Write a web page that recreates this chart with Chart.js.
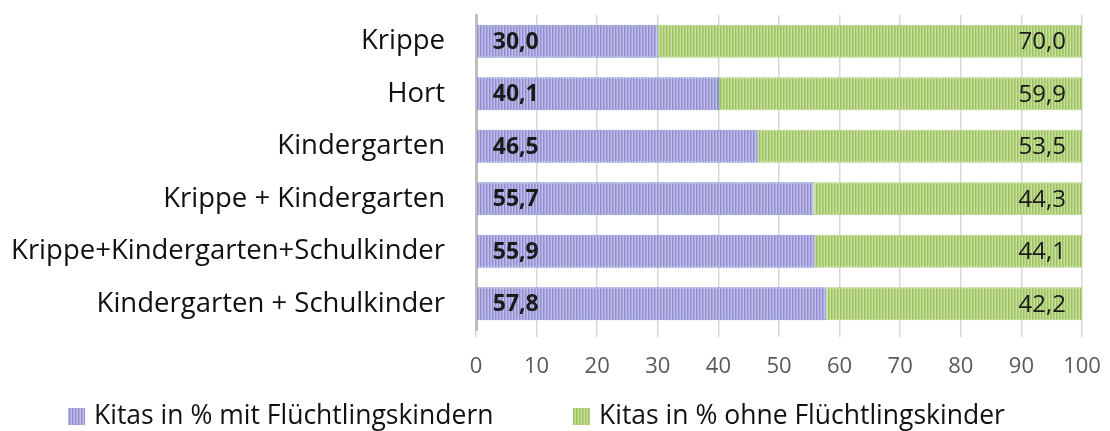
<!DOCTYPE html>
<html>
<head>
<meta charset="utf-8">
<script src="https://cdn.jsdelivr.net/npm/chart.js@4"></script>
<style>
  body { margin: 0; background: #fff; }
  #wrap { width: 1110px; height: 431px; position: relative; }
</style>
</head>
<body>
<div id="wrap"><canvas id="chart" width="1110" height="431"></canvas></div>
<script>
// Daten
const categories = [
    'Krippe',
    'Hort',
    'Kindergarten',
    'Krippe + Kindergarten',
    'Krippe+Kindergarten+Schulkinder',
    'Kindergarten + Schulkinder'
];
const mitFluechtlingen = [30.0, 40.1, 46.5, 55.7, 55.9, 57.8];
const ohneFluechtlinge = [70.0, 59.9, 53.5, 44.3, 44.1, 42.2];
const seriesLabels = ['Kitas in % mit Flüchtlingskindern', 'Kitas in % ohne Flüchtlingskinder'];
const xTicks = [0, 10, 20, 30, 40, 50, 60, 70, 80, 90, 100];

const FONT = '"Open Sans", "Noto Sans", sans-serif';

// Streifenmuster wie im Original
function makeStripes(dark, light) {
    const c = document.createElement('canvas');
    c.width = 3;
    c.height = 40;
    const g = c.getContext('2d');
    g.fillStyle = light;
    g.fillRect(0, 0, 3, 40);
    g.fillStyle = dark;
    g.fillRect(0, 0, 1.5, 40);
    return document.getElementById('chart').getContext('2d').createPattern(c, 'repeat');
}

const bluePattern = makeStripes('#8890d4', '#cbbce6');
const greenPattern = makeStripes('#9cc25c', '#c9e0a2');

// Werte in die Balken schreiben
const valueLabels = {
    id: 'valueLabels',
    afterDatasetsDraw(chart) {
        const ctx = chart.ctx;
        ctx.save();
        ctx.fillStyle = '#1a1a1a';
        ctx.textBaseline = 'middle';
        chart.data.datasets.forEach((ds, di) => {
            const meta = chart.getDatasetMeta(di);
            meta.data.forEach((bar, i) => {
                const txt = ds.data[i].toFixed(1).replace('.', ',');
                if (di === 0) {
                    ctx.font = 'bold 23px ' + FONT;
                    ctx.textAlign = 'left';
                    ctx.fillText(txt, bar.base + 16, bar.y + 1);
                } else {
                    ctx.font = '24px ' + FONT;
                    ctx.textAlign = 'right';
                    ctx.fillText(txt, bar.x - 16, bar.y + 1);
                }
            });
        });
        ctx.restore();
    }
};

// Legende unten
const bottomLegend = {
    id: 'bottomLegend',
    afterDraw(chart) {
        const ctx = chart.ctx;
        const items = [
            { x: 68, fill: bluePattern },
            { x: 573, fill: greenPattern }
        ];
        ctx.save();
        ctx.font = '26.5px ' + FONT;
        ctx.textBaseline = 'middle';
        ctx.textAlign = 'left';
        items.forEach((it, i) => {
            ctx.fillStyle = it.fill;
            ctx.fillRect(it.x, 408, 17, 17);
            ctx.fillStyle = '#111';
            ctx.fillText(seriesLabels[i], it.x + 26, 416);
        });
        ctx.restore();
    }
};

new Chart(document.getElementById('chart'), {
    type: 'bar',
    data: {
        labels: categories,
        datasets: [
            {
                label: seriesLabels[0],
                data: mitFluechtlingen,
                backgroundColor: bluePattern,
                borderColor: '#8494d8',
                borderWidth: 1,
                borderSkipped: false,
                barPercentage: 0.63,
                categoryPercentage: 1
            },
            {
                label: seriesLabels[1],
                data: ohneFluechtlinge,
                backgroundColor: greenPattern,
                borderColor: '#b0d07c',
                borderWidth: 1,
                borderSkipped: false,
                barPercentage: 0.63,
                categoryPercentage: 1
            }
        ]
    },
    options: {
        indexAxis: 'y',
        responsive: false,
        animation: false,
        layout: { padding: { top: 15, right: 28, bottom: 0, left: 0 } },
        plugins: {
            legend: { display: false },
            tooltip: { enabled: false }
        },
        scales: {
            x: {
                stacked: true,
                min: 0,
                max: 100,
                afterBuildTicks(axis) {
                    axis.ticks = xTicks.map(v => ({ value: v }));
                },
                afterFit(axis) {
                    axis.height = 101;
                    axis.paddingLeft = 0;
                    axis.paddingRight = 0;
                },
                grid: {
                    color: '#d9d9d9',
                    lineWidth: 1.5,
                    drawTicks: true,
                    tickLength: 7
                },
                border: { display: false },
                ticks: {
                    color: '#595959',
                    font: { family: FONT, size: 22 },
                    padding: 17
                }
            },
            y: {
                stacked: true,
                grid: { display: false },
                border: { display: true, color: '#bfbfbf', width: 3 },
                afterFit(axis) {
                    axis.width = 476;
                    axis.paddingTop = 0;
                    axis.paddingBottom = 0;
                },
                ticks: {
                    color: '#111',
                    font: { family: FONT, size: 27.5 },
                    padding: 23
                }
            }
        }
    },
    plugins: [valueLabels, bottomLegend]
});
</script>
</body>
</html>
